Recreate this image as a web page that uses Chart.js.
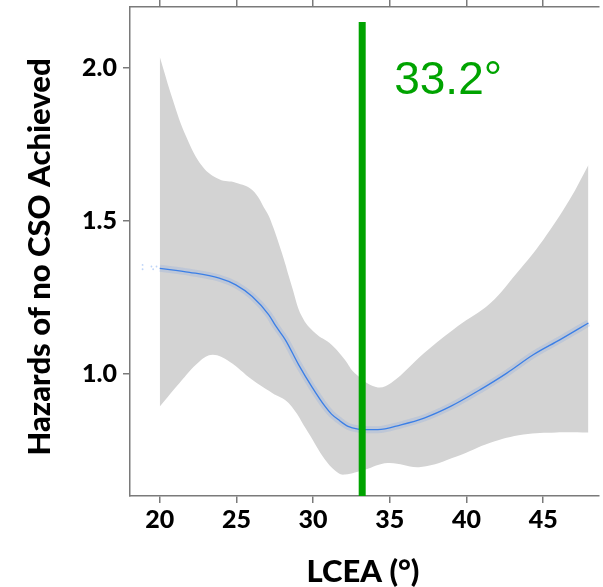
<!DOCTYPE html>
<html>
<head>
<meta charset="utf-8">
<style>
  html, body { margin: 0; padding: 0; background: #fff; overflow: hidden; }
  #wrap { width: 603px; height: 587px; position: relative; }
</style>
<script src="https://cdn.jsdelivr.net/npm/chart.js@4.4.1/dist/chart.umd.min.js"></script>
</head>
<body>
<div id="wrap"><canvas id="c" width="603" height="587"></canvas></div>
<script>
// Restricted cubic spline fit of the hazard ratio against LCEA
const fitX = [20, 21.94, 23.88, 24.96, 26.03, 27.11, 27.54, 28.19, 29.05, 29.91, 30.78, 31.2, 31.64, 32.28, 32.93, 33.58, 34.22, 35.73, 37.24, 38.96, 40.9, 42.63, 44.35, 46.08, 47.95];
const fitHR = [1.345, 1.332, 1.313, 1.291, 1.253, 1.193, 1.158, 1.111, 1.030, 0.958, 0.893, 0.868, 0.850, 0.828, 0.819, 0.817, 0.817, 0.833, 0.855, 0.893, 0.948, 1.002, 1.062, 1.111, 1.166];

// 95% confidence band, upper and lower limits
const upperX = [20, 20.86, 21.72, 22.8, 23.88, 24.96, 26.03, 26.9, 27.22, 27.97, 28.62, 29.27, 30.13, 31.2, 32.07, 32.72, 34.1, 35.08, 37.24, 39.4, 41.55, 43.27, 45.0, 46.72, 47.95];
const upperHR = [2.037, 1.895, 1.776, 1.677, 1.636, 1.625, 1.601, 1.535, 1.503, 1.394, 1.285, 1.187, 1.133, 1.095, 1.046, 1.002, 0.957, 0.970, 1.068, 1.155, 1.231, 1.329, 1.438, 1.569, 1.683];
const lowerX = [20, 21.29, 22.59, 23.45, 24.53, 26.03, 27.33, 28.4, 29.7, 30.78, 31.64, 32.07, 33.36, 34.87, 37.02, 39.4, 41.55, 43.71, 45.86, 47.95];
const lowerHR = [0.893, 0.970, 1.040, 1.062, 1.040, 0.980, 0.937, 0.904, 0.806, 0.719, 0.675, 0.670, 0.686, 0.708, 0.695, 0.730, 0.774, 0.801, 0.808, 0.808];

// Observations below the fitted range
const obsX = [18.88, 18.88, 19.46, 19.57, 19.79];
const obsHR = [1.356, 1.342, 1.351, 1.342, 1.351];

// Optimal cut-off
const cutoff = 33.2;
const cutoffLabel = '33.2°';
const cutoffSpan = [0.6, 2.151];

// Axes
const xTicks = [20, 25, 30, 35, 40, 45];
const yTicks = [1.0, 1.5, 2.0];
const xRange = [18.06, 48.64];
const yRange = [0.6, 2.2];
const xTitle = 'LCEA (°)';
const yTitle = 'Hazards of no CSO Achieved';

const pts = (xs, ys) => xs.map((x, i) => ({ x, y: ys[i] }));

const GREEN = '#00a300';
const AXIS = '#7a7a7a';
const FONT = 'Lato, "Open Sans", sans-serif';

const annotate = {
  id: 'annotate',
  afterDatasetsDraw(chart) {
    const { ctx, scales } = chart;
    const xs = scales.x, ys = scales.y;
    ctx.save();
    ctx.fillStyle = GREEN;
    ctx.font = '46px "Liberation Sans", Arial, sans-serif';
    ctx.textAlign = 'left';
    ctx.textBaseline = 'alphabetic';
    ctx.fillText(cutoffLabel, xs.getPixelForValue(cutoff) + 32, ys.getPixelForValue(cutoffSpan[1]) + 72);
    ctx.restore();
  },
  afterDraw(chart) {
    const { ctx } = chart;
    ctx.save();
    ctx.fillStyle = '#000';
    ctx.font = '900 31px ' + FONT;
    ctx.textAlign = 'center';
    ctx.textBaseline = 'middle';
    ctx.fillText(xTitle, 363, 572);
    ctx.translate(40, 257);
    ctx.rotate(-Math.PI / 2);
    ctx.fillText(yTitle, 0, 0);
    ctx.restore();
  }
};

const tickFont = { family: FONT, size: 25, weight: '900' };
const bandCurve = { tension: 0.4, cubicInterpolationMode: 'default' };

new Chart(document.getElementById('c'), {
  type: 'line',
  data: {
    datasets: [
      {
        data: [{ x: cutoff, y: cutoffSpan[0] }, { x: cutoff, y: cutoffSpan[1] }],
        borderColor: GREEN, borderWidth: 7, pointRadius: 0, borderCapStyle: 'butt', fill: false
      },
      {
        data: pts(fitX, fitHR),
        borderColor: '#3b7fe6', borderWidth: 1.3, pointRadius: 0,
        cubicInterpolationMode: 'monotone', fill: false
      },
      {
        data: pts(fitX, fitHR),
        borderColor: 'rgba(95,145,235,0.18)', borderWidth: 7, pointRadius: 0,
        cubicInterpolationMode: 'monotone', fill: false
      },
      {
        data: pts(obsX, obsHR),
        showLine: false, pointRadius: 0.9, pointBorderWidth: 0,
        pointBackgroundColor: 'rgba(110,160,240,0.45)', fill: false
      },
      Object.assign({
        data: pts(upperX, upperHR),
        borderWidth: 0, borderColor: 'rgba(0,0,0,0)', pointRadius: 0,
        fill: '+1', backgroundColor: '#d3d3d3'
      }, bandCurve),
      Object.assign({
        data: pts(lowerX, lowerHR),
        borderWidth: 0, borderColor: 'rgba(0,0,0,0)', pointRadius: 0, fill: false
      }, bandCurve)
    ]
  },
  options: {
    responsive: false,
    animation: false,
    events: [],
    layout: { padding: 0 },
    plugins: { legend: { display: false }, tooltip: { enabled: false } },
    scales: {
      x: {
        type: 'linear', position: 'bottom', min: xRange[0], max: xRange[1],
        afterBuildTicks: s => { s.ticks = xTicks.map(v => ({ value: v })); },
        afterFit: s => { s.height = 91; s.paddingLeft = 0; s.paddingRight = 0; },
        border: { color: AXIS, width: 1.5 },
        grid: { drawOnChartArea: false, drawTicks: true, tickLength: 7, color: AXIS, lineWidth: 1.5 },
        ticks: { font: tickFont, color: '#000', padding: 2, maxRotation: 0, callback: v => String(v) }
      },
      x2: {
        type: 'linear', position: 'top', min: xRange[0], max: xRange[1],
        afterBuildTicks: s => { s.ticks = xTicks.map(v => ({ value: v })); },
        afterFit: s => { s.height = 7; s.paddingLeft = 0; s.paddingRight = 0; },
        border: { color: AXIS, width: 1.5 },
        grid: { drawOnChartArea: false, drawTicks: true, tickLength: 7, color: AXIS, lineWidth: 1.5 },
        ticks: { display: false }
      },
      y: {
        type: 'linear', position: 'left', min: yRange[0], max: yRange[1],
        afterBuildTicks: s => { s.ticks = yTicks.map(v => ({ value: v })); },
        afterFit: s => { s.width = 130; s.paddingTop = 0; s.paddingBottom = 0; },
        border: { color: AXIS, width: 1.5 },
        grid: { drawOnChartArea: false, drawTicks: true, tickLength: 7, color: AXIS, lineWidth: 1.5 },
        ticks: { font: tickFont, color: '#000', padding: 6, callback: v => Number(v).toFixed(1) }
      }
    }
  },
  plugins: [annotate]
});
</script>
</body>
</html>
